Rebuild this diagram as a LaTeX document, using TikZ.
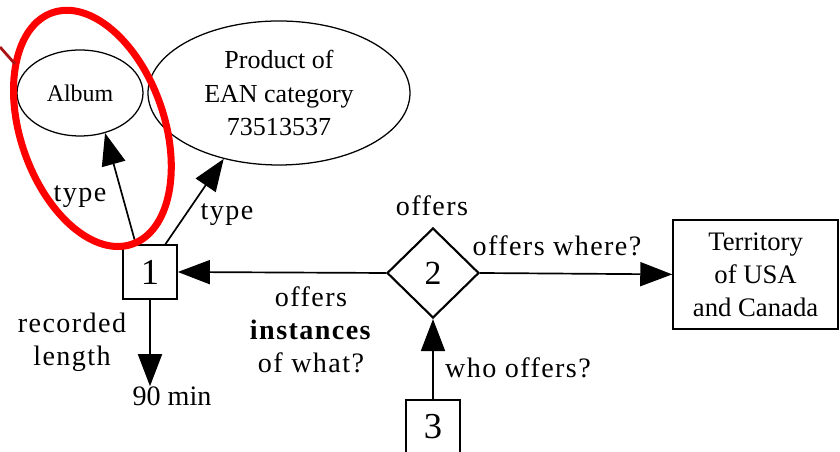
\documentclass[tikz,border=0pt]{standalone}
\usepackage{fontspec}
\setmainfont{Liberation Serif}
\newfontfamily\spacedfont[LetterSpace=5]{Liberation Serif}
\usetikzlibrary{shapes.geometric, arrows.meta}
\tikzstyle{entity} = [rectangle, draw=black, line width=1.2pt, minimum width=1.35cm, minimum height=1.35cm, inner sep=0pt, font=\fontsize{26}{30}\selectfont]
\tikzstyle{relation} = [diamond, draw=black, line width=1.5pt, minimum width=2.3cm, minimum height=2.25cm, inner sep=0pt, font=\fontsize{24}{28}\selectfont]
\tikzstyle{concept} = [ellipse, draw=black, line width=0.9pt, inner sep=0pt, align=center]
\tikzstyle{literal} = [rectangle, draw=black, line width=1.2pt, align=center, minimum width=4.125cm, minimum height=2.725cm, font=\fontsize{19}{23.5}\selectfont]
\tikzstyle{value} = [inner sep=0pt, font=\fontsize{20}{24}\selectfont]
\tikzstyle{edgetext} = [align=center, inner sep=0pt, font=\spacedfont\fontsize{20}{23.5}\selectfont]
\tikzstyle{arrow} = [line width=1.2pt, -{Triangle[length=8mm, width=6mm]}]
\definecolor{markred}{RGB}{255,0,0}
\definecolor{darkred}{RGB}{170,20,20}

\begin{document}
\begin{tikzpicture}
			\useasboundingbox (0,0) rectangle (21,11.3);
			% Nodes
			\node (entity1) [entity] at (3.75,4.5) {1};
			\node (album) [concept, minimum width=3.15cm, minimum height=2.15cm, font=\fontsize{17}{21}\selectfont] at (2.0,8.975) {Album};
			\node (product) [concept, minimum width=6.55cm, minimum height=3.6cm, font=\fontsize{18.5}{24}\selectfont] at (6.975,8.975) {Product of\\EAN category\\73513537};
			\node (offers) [relation] at (10.825,4.475) {2};
			\node (territory) [literal] at (18.89,4.44) {Territory\\of USA\\and Canada};
			\node (entity3) [entity] at (10.825,0.625) {3};
			\node (length) [value] at (4.3,1.4) {90 min};
			
			% Labels
			\node (typeA) [edgetext] at (2.0,6.375) {type};
			\node (typeB) [edgetext] at (5.675,5.925) {type};
			\node (offersname) [edgetext] at (10.8,6.15) {offers};
			\node (offerswhere) [edgetext] at (13.925,5.15) {offers where?};
			\node (offerswhat) [edgetext] at (7.775,3.05) {offers\\\textbf{instances}\\of what?};
			\node (recorded) [edgetext] at (1.8,2.75) {recorded\\length};
			\node (whooffers) [edgetext] at (12.95,2.1) {who offers?};
			
			% Arrows
			\draw [arrow] (entity1.117) -- (album.-58);
			\draw [arrow] (entity1.61) -- (product.230);
			\draw [arrow] (entity1.south) -- (entity1.south |- length.north);
			\draw [arrow] (offers.west) -- (entity1.east);
			\draw [arrow] (offers.east) -- (territory.west);
			\draw [arrow] (entity3.north) -- (offers.south);
			
			% Highlight
			\draw [markred, line width=5pt, rotate around={19:(2.31,8.09)}] (2.31,8.09) ellipse (1.8cm and 3.06cm);
			\draw [darkred, line width=2pt] (0,10.125) -- (0.375,9.7);
		\end{tikzpicture}
\end{document}
